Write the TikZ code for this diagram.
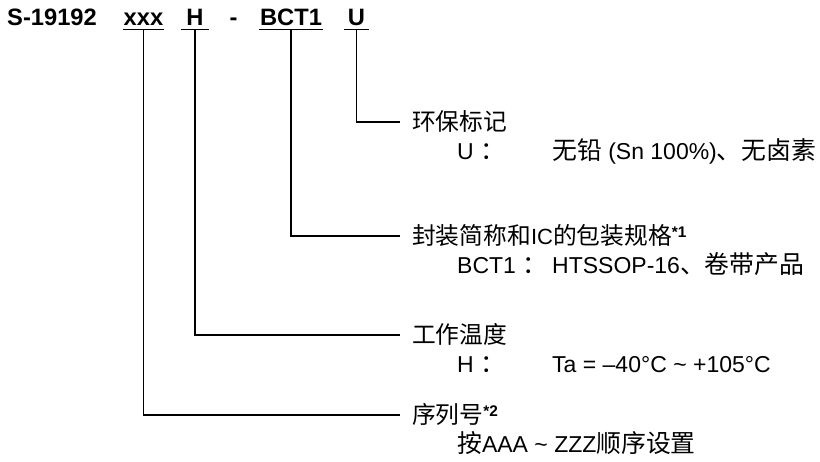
\documentclass[tikz,border=0pt]{standalone}
\usepackage{fontspec}
\setmainfont{Liberation Sans}
\newfontfamily\cjk[Scale=1.08]{Noto Sans CJK SC}

\begin{document}
\begin{tikzpicture}[x=1pt,y=-1pt,
  every node/.style={inner sep=0pt},
  partname/.style={font=\fontsize{23.7}{26}\selectfont\bfseries,anchor=base,text height=17pt,text depth=3.3pt},
  heading/.style={font=\fontsize{22}{26}\selectfont,anchor=west,inner xsep=12pt,text height=18pt,text depth=0pt},
  subline/.style={font=\fontsize{23}{26}\selectfont,anchor=base west},
  conn/.style={line width=1.8pt},
  uline/.style={line width=1.8pt}]

  \useasboundingbox (0,0) rectangle (820,462);

  \node[partname,anchor=base west] (P0) at (7,26) {S-19192};
  \node[partname,minimum width=41pt] (P1) at (143.5,26) {xxx};
  \node[partname,minimum width=28pt] (P2) at (195,26) {H};
  \node[partname] (P5) at (233.5,26) {-};
  \node[partname,minimum width=63pt] (P3) at (291,26) {BCT1};
  \node[partname,minimum width=25pt] (P4) at (356.5,26) {U};

  \foreach \p in {P1,P2,P3,P4}
    \draw[uline] (\p.south west) -- (\p.south east);

  \node[heading] (L1) at (400,122) {{\cjk 环保标记}};
  \node[subline] (D1) at (457,160) {\makebox[95pt][l]{U {\cjk ：}}{\cjk 无铅} (Sn 100\%){\cjk 、无卤素}};

  \node[heading] (L2) at (400,236) {{\cjk 封装简称和}IC{\cjk 的包装规格}\textsuperscript{\bfseries *1}};
  \node[subline] (D2) at (457,274) {\makebox[95pt][l]{BCT1 {\cjk ：}}HTSSOP-16{\cjk 、卷带产品}};

  \node[heading] (L3) at (400,335) {{\cjk 工作温度}};
  \node[subline] (D3) at (457,373) {\makebox[95pt][l]{H {\cjk ：}}Ta = --40°C \textasciitilde{} +105°C};

  \node[heading] (L4) at (400,415) {{\cjk 序列号}\textsuperscript{\bfseries *2}};
  \node[subline] (D4) at (457,453) {{\cjk 按}AAA \textasciitilde{} ZZZ{\cjk 顺序设置}};

  \draw[conn] (P4.south) |- (L1.west);
  \draw[conn] (P3.south) |- (L2.west);
  \draw[conn] (P2.south) |- (L3.west);
  \draw[conn] (P1.south) |- (L4.west);
\end{tikzpicture}
\end{document}
